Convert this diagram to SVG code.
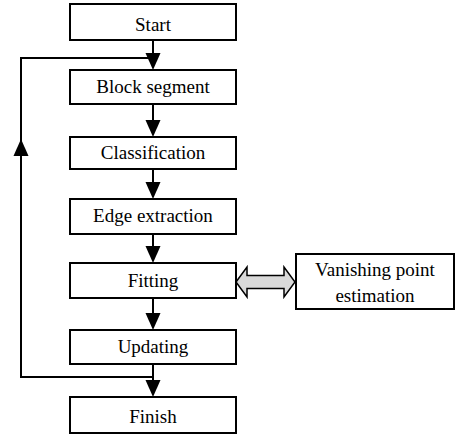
<svg xmlns="http://www.w3.org/2000/svg" width="455" height="436" viewBox="0 0 455 436">
<style>
.box{fill:#fff;stroke:#000;stroke-width:2}
.ln{fill:none;stroke:#000;stroke-width:2}
.hd{fill:#000;stroke:none}
.t{font-family:'Liberation Serif','Times New Roman',Times,serif;font-size:19px;fill:#000;text-anchor:middle}
</style>
<rect width="455" height="436" fill="#fff"/>
<g id="connectors">
<path class="ln" d="M153,40 V54"/><polygon class="hd" points="145.5,53 160.5,53 153,70"/>
<path class="ln" d="M153,104 V121"/><polygon class="hd" points="145.5,120 160.5,120 153,137"/>
<path class="ln" d="M153,169 V183"/><polygon class="hd" points="145.5,182 160.5,182 153,199"/>
<path class="ln" d="M153,234 V247"/><polygon class="hd" points="145.5,246 160.5,246 153,263"/>
<path class="ln" d="M153,298 V314"/><polygon class="hd" points="145.5,313 160.5,313 153,330"/>
<path class="ln" d="M153,364 V381"/><polygon class="hd" points="145.5,380 160.5,380 153,397"/>
<path class="ln" d="M153,377 H21 V58 H153"/>
<polygon class="hd" points="13.5,156 28.5,156 21,139"/>
<polygon points="236,282 247,267 247,275.5 284,275.5 284,267 295,282 284,297 284,288.5 247,288.5 247,297" fill="#d9d9d9" stroke="#000" stroke-width="1.5" stroke-linejoin="miter"/>
</g>
<g id="start"><rect class="box" x="70" y="4" width="166" height="36"/><text class="t" x="153" y="30.5">Start</text></g>
<g id="block"><rect class="box" x="70" y="70" width="166" height="34"/><text class="t" x="153" y="93">Block segment</text></g>
<g id="classification"><rect class="box" x="70" y="137" width="166" height="32"/><text class="t" x="153" y="159">Classification</text></g>
<g id="edge"><rect class="box" x="70" y="199" width="166" height="35"/><text class="t" x="153" y="222">Edge extraction</text></g>
<g id="fitting"><rect class="box" x="70" y="263" width="166" height="35"/><text class="t" x="153" y="287">Fitting</text></g>
<g id="updating"><rect class="box" x="70" y="330" width="166" height="34"/><text class="t" x="153" y="353">Updating</text></g>
<g id="finish"><rect class="box" x="70" y="397" width="166" height="36"/><text class="t" x="153" y="423">Finish</text></g>
<g id="vanishing"><rect class="box" x="296" y="254" width="158" height="55"/><text class="t" x="375" y="276">Vanishing point</text><text class="t" x="375" y="302">estimation</text></g>
</svg>
